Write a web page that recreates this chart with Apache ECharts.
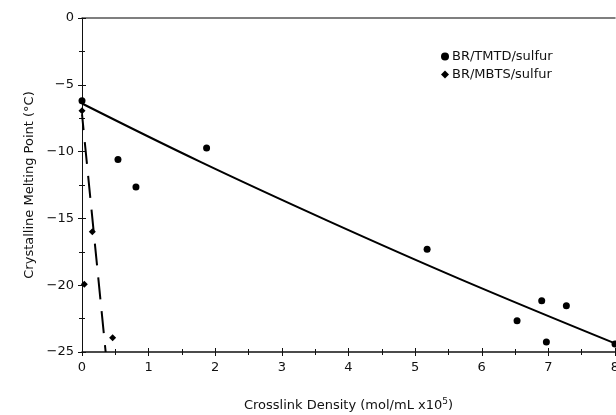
<!DOCTYPE html>
<html>
<head>
<meta charset="utf-8">
<script src="https://cdn.jsdelivr.net/npm/echarts@6/dist/echarts.min.js"></script>
<style>html,body{margin:0;padding:0;background:#fff}#c{width:616px;height:415px}</style>
</head>
<body>
<div id="c"></div>
<script>
// Data
var tmtdX = [0, 0.54, 0.81, 1.87, 5.18, 6.53, 6.90, 6.97, 7.27, 8.0];
var tmtdY = [-6.2, -10.6, -12.65, -9.73, -17.3, -22.66, -21.16, -24.25, -21.53, -24.4];
var mbtsX = [0, 0.155, 0.035, 0.46];
var mbtsY = [-6.95, -16.0, -19.93, -23.93];
var tmtdFitX = [0, 1.77, 3.7, 5.675, 8];
var tmtdFitY = [-6.4, -10.75, -15.2, -19.54, -24.35];
var mbtsFitX = [0, 0.355];
var mbtsFitY = [-7.2, -25];
var seriesNames = ['BR/TMTD/sulfur', 'BR/MBTS/sulfur'];
var xTitle = 'Crosslink Density (mol/mL x10';
var yTitle = 'Crystalline Melting Point (\u00B0C)';

function pairs(xs, ys) { return xs.map(function (x, i) { return [x, ys[i]]; }); }

var FONT = 'DejaVu Sans';
var chart = echarts.init(document.getElementById('c'), null, { renderer: 'canvas' });
var lbl = { color: '#111', fontFamily: FONT, fontSize: 13 };
var gridPos = { left: 82, right: 1, top: 18, bottom: 63, containLabel: false, outerBoundsMode: 'none' };
var tickStyle = { color: '#111', width: 1 };

chart.setOption({
  backgroundColor: '#fff',
  animation: false,
  grid: [Object.assign({}, gridPos), Object.assign({}, gridPos)],
  legend: {
    orient: 'vertical', left: 436, top: 45,
    itemWidth: 8, itemHeight: 8, itemGap: 5,
    textStyle: { fontFamily: FONT, fontSize: 13, color: '#111', padding: [0, 0, 0, -2] },
    data: [{ name: seriesNames[0], icon: 'circle' }, { name: seriesNames[1], icon: 'diamond' }]
  },
  xAxis: [
    {
      gridIndex: 0, type: 'value', position: 'bottom', min: 0, max: 8, interval: 1,
      splitLine: { show: false },
      axisLine: { show: true, onZero: false, lineStyle: { color: '#111', width: 1.5 } },
      axisTick: { show: true, inside: false, length: 4, lineStyle: tickStyle },
      minorTick: { show: true, splitNumber: 2, length: 3, lineStyle: tickStyle },
      axisLabel: Object.assign({ margin: 9 }, lbl),
      name: xTitle, nameLocation: 'middle', nameGap: 45,
      nameTextStyle: { fontFamily: FONT, fontSize: 13, color: '#111' }
    },
    {
      gridIndex: 0, type: 'value', position: 'top', min: 0, max: 8, interval: 1,
      splitLine: { show: false }, axisTick: { show: false }, axisLabel: { show: false },
      minorTick: { show: false },
      axisLine: { show: true, onZero: false, lineStyle: { color: '#555', width: 1.5 } }
    },
    {
      gridIndex: 1, type: 'value', position: 'bottom', min: 0, max: 8, interval: 1,
      splitLine: { show: false }, axisLine: { show: false, onZero: false }, axisLabel: { show: false },
      axisTick: { show: true, inside: true, length: 4, lineStyle: tickStyle },
      minorTick: { show: true, splitNumber: 2, length: 3, lineStyle: tickStyle }
    }
  ],
  yAxis: [
    {
      gridIndex: 0, type: 'value', position: 'left', min: -25, max: 0, interval: 5,
      splitLine: { show: false },
      axisLine: { show: true, onZero: false, lineStyle: { color: '#111', width: 1 } },
      axisTick: { show: true, inside: false, length: 4, lineStyle: tickStyle },
      minorTick: { show: true, splitNumber: 2, length: 3, lineStyle: tickStyle },
      axisLabel: Object.assign({ margin: 8, formatter: function (v) { return v < 0 ? '\u2212' + (-v) : '' + v; } }, lbl),
      name: yTitle, nameLocation: 'middle', nameGap: 46, nameRotate: 90,
      nameTextStyle: { fontFamily: FONT, fontSize: 13, color: '#111' }
    },
    {
      gridIndex: 1, type: 'value', position: 'left', min: -25, max: 0, interval: 5,
      splitLine: { show: false }, axisLine: { show: false, onZero: false }, axisLabel: { show: false },
      axisTick: { show: true, inside: true, length: 4, lineStyle: tickStyle },
      minorTick: { show: true, splitNumber: 2, length: 3, lineStyle: tickStyle }
    }
  ],
  series: [
    {
      name: seriesNames[0], type: 'scatter', xAxisIndex: 0, yAxisIndex: 0,
      data: pairs(tmtdX, tmtdY), symbol: 'circle', symbolSize: 7,
      itemStyle: { color: '#000', opacity: 1 }, clip: false, z: 5
    },
    {
      name: seriesNames[1], type: 'scatter', xAxisIndex: 0, yAxisIndex: 0,
      data: pairs(mbtsX, mbtsY), symbol: 'diamond', symbolSize: 7,
      itemStyle: { color: '#000', opacity: 1 }, clip: false, z: 5
    },
    {
      name: 'tmtdFit', type: 'line', xAxisIndex: 0, yAxisIndex: 0,
      data: pairs(tmtdFitX, tmtdFitY), smooth: 0.4, showSymbol: false, symbol: 'none',
      lineStyle: { color: '#000', width: 2 }, z: 4
    },
    {
      name: 'mbtsFit', type: 'line', xAxisIndex: 0, yAxisIndex: 0,
      data: pairs(mbtsFitX, mbtsFitY), showSymbol: false, symbol: 'none',
      lineStyle: { color: '#000', width: 2, type: [22, 12], dashOffset: 6 }, z: 4
    }
  ]
});

// superscript in the x title via rich text
chart.setOption({
  xAxis: [{
    name: xTitle + '{sup|5}' + ')',
    nameTextStyle: {
      fontFamily: FONT, fontSize: 13, color: '#111',
      rich: { sup: { fontFamily: FONT, fontSize: 9, color: '#111', verticalAlign: 'top', padding: [0, 0, 8, 0] } }
    }
  }]
});
</script>
</body>
</html>
